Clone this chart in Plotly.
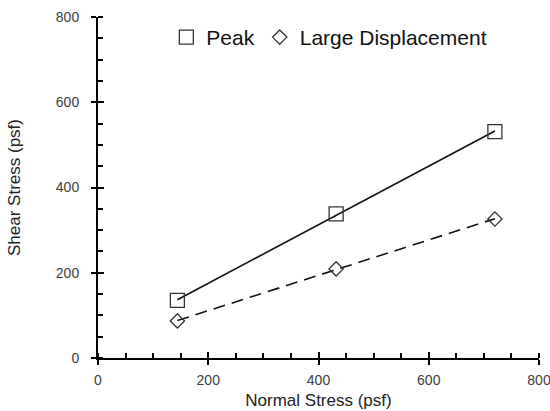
import numpy as np
import plotly.graph_objects as go

normal_stress = [144, 432, 720]
peak_shear = [135, 338, 531]
large_disp_shear = [87, 209, 326]
tick_vals = [0, 200, 400, 600, 800]
tick_text = ["0", "200", "400", "600", "800"]

FONT = "Liberation Sans, Arial, sans-serif"

def fit_line(x, y):
    m, b = np.polyfit(x, y, 1)
    xs = np.array([min(x), max(x)], dtype=float)
    return xs, m * xs + b

fig = go.Figure()

px_, py_ = fit_line(normal_stress, peak_shear)
lx_, ly_ = fit_line(normal_stress, large_disp_shear)

fig.add_trace(go.Scatter(x=px_, y=py_, mode="lines", showlegend=False,
                         line=dict(color="#111111", width=1.6), hoverinfo="skip"))
fig.add_trace(go.Scatter(x=lx_, y=ly_, mode="lines", showlegend=False,
                         line=dict(color="#111111", width=1.6, dash="12px,7px"), hoverinfo="skip"))

fig.add_trace(go.Scatter(x=normal_stress, y=peak_shear, mode="markers", name="Peak",
                         marker=dict(symbol="square-open", size=14, color="#333333",
                                     line=dict(width=1.3, color="#333333"))))
fig.add_trace(go.Scatter(x=normal_stress, y=large_disp_shear, mode="markers", name="Large Displacement",
                         marker=dict(symbol="diamond-open", size=11, color="#333333",
                                     line=dict(width=1.3, color="#333333"))))

# overlay axes for the inside half of the major ticks
fig.add_trace(go.Scatter(x=[None], y=[None], xaxis="x2", yaxis="y2", showlegend=False, hoverinfo="skip"))

axis_common = dict(range=[0, 800], showgrid=False, zeroline=False, automargin=False)

fig.update_layout(
    width=550, height=411,
    margin=dict(l=98, r=11, t=17, b=53),
    paper_bgcolor="white", plot_bgcolor="white",
    font=dict(family=FONT, color="#222222"),
    showlegend=True,
    legend=dict(orientation="h", x=0.155, xanchor="left", y=0.94, yanchor="middle",
                font=dict(size=21, family=FONT, color="#111111"),
                bgcolor="rgba(0,0,0,0)", itemwidth=30, tracegroupgap=0),
    xaxis=dict(**axis_common, tickvals=tick_vals, ticktext=tick_text,
               showline=True, linecolor="black", linewidth=2,
               ticks="outside", ticklen=5, tickwidth=2, tickcolor="black",
               tickfont=dict(size=14, color="#404040"), ticklabelstandoff=3,
               ticklabeloverflow="allow",
               minor=dict(dtick=50, ticks="inside", ticklen=5, tickwidth=2, tickcolor="black"),
               title=dict(text="Normal Stress (psf)", font=dict(size=17, color="#222222"), standoff=7)),
    yaxis=dict(**axis_common, tickvals=tick_vals, ticktext=tick_text,
               showline=True, linecolor="black", linewidth=2,
               ticks="outside", ticklen=5, tickwidth=2, tickcolor="black",
               tickfont=dict(size=14, color="#404040"), ticklabelstandoff=9,
               ticklabeloverflow="allow",
               minor=dict(dtick=50, ticks="inside", ticklen=5, tickwidth=2, tickcolor="black"),
               title=dict(text="Shear Stress (psf)", font=dict(size=17, color="#222222"), standoff=31)),
    xaxis2=dict(**axis_common, overlaying="x", tickvals=tick_vals, showticklabels=False,
                ticks="inside", ticklen=6, tickwidth=2, tickcolor="black", showline=False),
    yaxis2=dict(**axis_common, overlaying="y", tickvals=tick_vals, showticklabels=False,
                ticks="inside", ticklen=6, tickwidth=2, tickcolor="black", showline=False),
)

fig.write_html(
    "out.html",
    config={"displayModeBar": False},
    post_script="document.body.style.margin='0';document.body.style.overflow='hidden';",
)
